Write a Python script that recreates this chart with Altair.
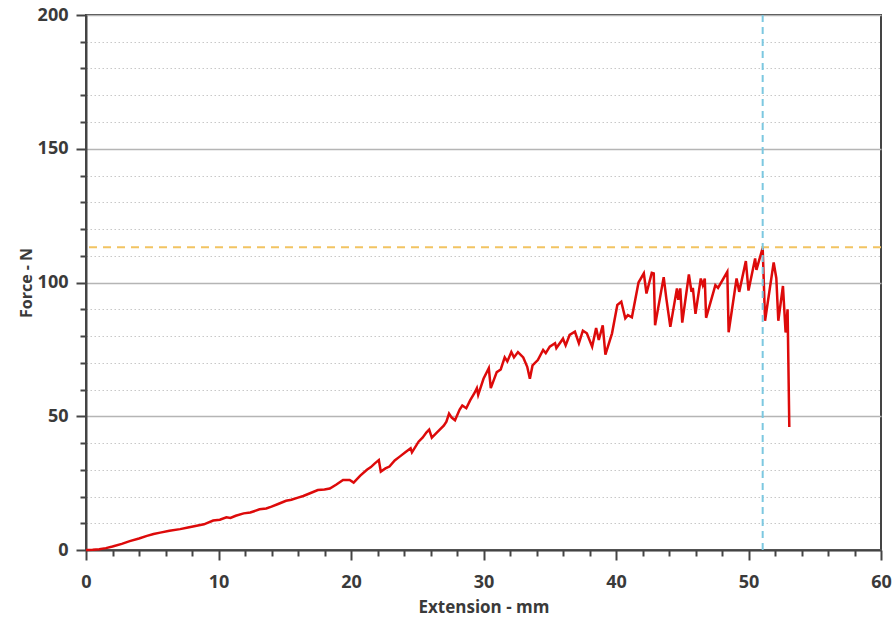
import altair as alt
import pandas as pd

extension_mm = [
    0, 0.5, 1.0, 1.5, 2.0, 2.7, 3.3, 4.0, 4.6, 5.1, 5.6, 6.3, 7.1, 7.7, 8.35, 8.9,
    9.6, 10.1, 10.6, 10.9, 11.3, 11.9, 12.4, 13.1, 13.6, 14.0, 14.5, 15.1, 15.5,
    16.0, 16.4, 17.0, 17.5, 18.0, 18.4, 18.9, 19.4, 19.9, 20.2, 20.7, 21.2, 21.5,
    21.8, 22.1, 22.25, 22.6, 22.9, 23.3, 23.7, 24.1, 24.5, 24.6, 25.1, 25.4, 25.7,
    25.9, 26.1, 26.4, 26.7, 27.0, 27.2, 27.4, 27.6, 27.85, 28.2, 28.4, 28.7, 29.0,
    29.3, 29.5, 29.6, 30.0, 30.4, 30.55, 31.0, 31.3, 31.6, 31.8, 32.1, 32.3, 32.6,
    33.0, 33.3, 33.5, 33.7, 34.1, 34.5, 34.7, 35.0, 35.4, 35.5, 36.0, 36.2, 36.5,
    36.9, 37.2, 37.5, 37.8, 38.2, 38.5, 38.7, 39.0, 39.2, 39.7, 40.1, 40.4, 40.7,
    40.9, 41.2, 41.7, 42.1, 42.3, 42.7, 42.85, 42.95, 43.6, 43.8, 44.1, 44.6, 44.7,
    44.85, 45.0, 45.5, 45.7, 45.8, 46.0, 46.4, 46.55, 46.7, 46.8, 47.5, 47.7, 48.4,
    48.5, 49.1, 49.3, 49.8, 50.0, 50.5, 50.6, 51.07, 51.25, 51.9, 52.1, 52.25, 52.6,
    52.8, 52.95, 53.08,
]
force_n = [
    0, 0.1, 0.3, 0.7, 1.3, 2.3, 3.3, 4.3, 5.3, 6.0, 6.5, 7.2, 7.8, 8.4, 9.1, 9.6,
    11.0, 11.3, 12.2, 12.0, 12.8, 13.7, 14.0, 15.2, 15.5, 16.2, 17.2, 18.4, 18.8,
    19.6, 20.2, 21.4, 22.4, 22.6, 23.0, 24.5, 26.2, 26.2, 25.2, 27.8, 30.0, 31.0,
    32.4, 33.6, 29.3, 30.5, 31.2, 33.5, 35.0, 36.5, 38.0, 36.5, 40.5, 42.0, 44.0,
    45.0, 42.0, 43.5, 45.0, 46.5, 48.0, 51.0, 49.5, 48.5, 52.5, 54.0, 53.0, 56.0,
    58.5, 60.5, 58.0, 64.0, 68.0, 60.5, 66.5, 67.5, 72.0, 70.5, 74.0, 72.0, 74.0,
    72.0, 68.5, 64.0, 69.0, 71.0, 74.8, 73.6, 76.0, 77.3, 75.5, 79.0, 76.5, 80.4,
    81.6, 77.3, 82.0, 81.0, 76.0, 83.0, 78.5, 84.0, 73.0, 81.0, 91.6, 92.8, 86.6,
    87.8, 87.0, 100.0, 103.4, 95.9, 103.6, 103.4, 84.0, 102.0, 94.0, 83.4, 97.8, 93.5,
    97.8, 85.0, 103.0, 96.5, 98.0, 88.3, 101.5, 99.0, 101.5, 86.8, 99.0, 98.0, 104.0,
    81.4, 101.5, 96.5, 108.0, 97.0, 109.0, 104.7, 113.0, 85.7, 107.5, 101.6, 85.7, 98.7,
    81.3, 90.0, 46.0,
]
max_force = [113.2]
max_ext = [51.07]
x_ticks = [v for v in range(0, 61, 2)]
y_ticks = [v for v in range(0, 201, 10)]

df = pd.DataFrame({"ext": extension_mm, "force": force_n})

FONT = "Open Sans"
xscale = alt.Scale(domain=[0, 60], nice=False, zero=False)
yscale = alt.Scale(domain=[0, 200], nice=False)

x_axis = alt.Axis(
    values=x_ticks,
    tickCount=100,
    format="d",
    labelOverlap=False,
    labelExpr="datum.value % 10 === 0 ? datum.label : ''",
    tickSize={"condition": {"test": "datum.value % 10 === 0", "value": 10}, "value": 6},
    grid=False,
    title="Extension - mm",
    titleFont=FONT, titleFontSize=17, titleFontWeight="bold", titleColor="#3a3a3a",
    titlePadding=8,
    labelFont=FONT, labelFontSize=18, labelFontWeight="bold", labelColor="#3a3a3a",
    labelPadding=13, labelFlush=False,
    domainColor="#444444", domainWidth=2, tickColor="#444444", tickWidth=2,
)
y_axis = alt.Axis(
    values=y_ticks,
    tickCount=100,
    format="d",
    labelOverlap=False,
    labelExpr="datum.value % 50 === 0 ? datum.label : ''",
    tickSize={"condition": {"test": "datum.value % 50 === 0", "value": 10}, "value": 6},
    grid=True,
    gridColor={"condition": {"test": "datum.value % 50 === 0", "value": "#b5b5b5"}, "value": "#c8c8c8"},
    gridDash={"condition": {"test": "datum.value % 50 === 0", "value": []}, "value": [1.5, 2.5]},
    gridWidth={"condition": {"test": "datum.value % 50 === 0", "value": 1.5}, "value": 1.2},
    title="Force - N",
    titleFont=FONT, titleFontSize=16, titleFontWeight="bold", titleColor="#3a3a3a",
    titlePadding=3,
    labelFont=FONT, labelFontSize=18, labelFontWeight="bold", labelColor="#3a3a3a",
    labelPadding=8, labelFlush=False,
    domainColor="#444444", domainWidth=2, tickColor="#444444", tickWidth=2,
)

line = alt.Chart(df).mark_line(color="#dd0a0a", strokeWidth=2.5).encode(
    x=alt.X("ext:Q", scale=xscale, axis=x_axis),
    y=alt.Y("force:Q", scale=yscale, axis=y_axis),
)

hline = alt.Chart(pd.DataFrame({"f": max_force})).mark_rule(
    color="#f2c462", strokeWidth=2, strokeDash=[8, 6]
).encode(y=alt.Y("f:Q", scale=yscale))

vline = alt.Chart(pd.DataFrame({"e": max_ext})).mark_rule(
    color="#7cc8e0", strokeWidth=2, strokeDash=[7, 5]
).encode(x=alt.X("e:Q", scale=xscale))

chart = (
    alt.layer(line, hline, vline)
    .properties(
        width=795,
        height=535,
        autosize=alt.AutoSizeParams(type="none"),
        padding={"left": 86, "top": 15, "right": 15, "bottom": 73},
        background="white",
    )
    .configure_view(stroke="#444444", strokeWidth=2)
)

chart.save("out.html", embed_options={"renderer": "svg", "actions": False})
